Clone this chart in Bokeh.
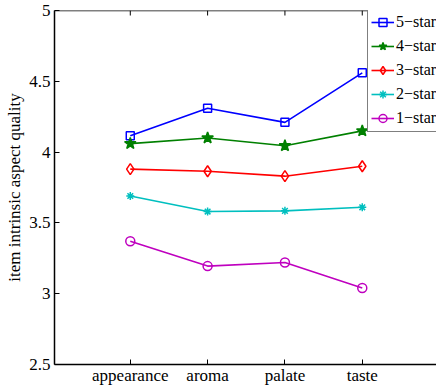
import math
from bokeh.plotting import figure
from bokeh.models import (FixedTicker, CustomJSTickFormatter, Legend,
                          LegendItem, Range1d, Span)
from bokeh.embed import file_html
from bokeh.resources import INLINE

# ---- data ----
aspects = ["appearance", "aroma", "palate", "taste"]
x_pos = [1, 2, 3, 4]
star5 = [4.115, 4.31, 4.21, 4.56]
star4 = [4.06, 4.10, 4.045, 4.15]
star3 = [3.88, 3.865, 3.83, 3.90]
star2 = [3.69, 3.58, 3.585, 3.61]
star1 = [3.37, 3.195, 3.22, 3.04]
y_ticks = [2.5, 3, 3.5, 4, 4.5, 5]
y_top = 5
series_names = ["5\u2212star", "4\u2212star", "3\u2212star", "2\u2212star", "1\u2212star"]
series_values = [star5, star4, star3, star2, star1]
series_colors = ["#0000FF", "#008000", "#FF0000", "#00BFBF", "#BF00BF"]
series_markers = ["square", "star", "diamond", "asterisk", "circle"]
marker_sizes = [8, 12, 11, 8, 9]
marker_fills = [None, "#008000", None, None, None]

FONT = "Liberation Serif"
FS = "17px"

W, H = 436, 388
BT, BB, BL = 10, 24, 54
FRAME_H = H - BT - BB
LEG_H = 122

p = figure(width=W, height=H, output_backend="svg", toolbar_location=None,
           x_range=Range1d(0.02, 4.96), y_range=Range1d(2.5, 5),
           min_border_left=BL, min_border_right=0, min_border_top=BT,
           min_border_bottom=BB)
p.outline_line_color = None
p.xgrid.grid_line_color = None
p.ygrid.grid_line_color = None
p.background_fill_color = "white"
p.border_fill_color = "white"

xa = p.xaxis[0]
xa.ticker = FixedTicker(ticks=x_pos)
xa.major_label_overrides = {x: a for x, a in zip(x_pos, aspects)}
xa.major_tick_in = 5
xa.major_tick_out = 0
xa.minor_tick_line_color = None
xa.major_label_standoff = 1
xa.axis_line_width = 1.5
xa.major_tick_line_width = 1
xa.major_label_text_font = FONT
xa.major_label_text_font_size = FS
xa.major_label_text_color = "black"

ya = p.yaxis[0]
ya.ticker = FixedTicker(ticks=y_ticks)
ya.formatter = CustomJSTickFormatter(code="return tick.toString();")
ya.major_tick_in = 5
ya.major_tick_out = 0
ya.minor_tick_line_color = None
ya.major_label_standoff = 4
ya.axis_line_width = 1.5
ya.major_tick_line_width = 1
ya.major_label_text_font = FONT
ya.major_label_text_font_size = FS
ya.major_label_text_color = "black"
ya.axis_label = "item intrinsic aspect quality"
ya.axis_label_text_font = FONT
ya.axis_label_text_font_size = FS
ya.axis_label_text_font_style = "normal"
ya.axis_label_text_color = "black"
ya.axis_label_standoff = 2

# top box edge with inward ticks
p.add_layout(Span(location=y_top, dimension="width", line_color="black", line_width=1.5))
p.ray(x=x_pos, y=[y_top] * len(x_pos), length=5, length_units="screen",
      angle=-math.pi / 2, line_color="black", line_width=1)

items = []
for name, vals, col, mk, ms, fill in zip(series_names, series_values, series_colors,
                                         series_markers, marker_sizes, marker_fills):
    lr = p.line(x_pos, vals, line_color=col, line_width=1.6)
    sr = p.scatter(x_pos, vals, marker=mk, size=ms, line_color=col, line_width=1.5,
                   fill_color=fill if fill else "white", fill_alpha=1.0 if fill else 0.0)
    items.append(LegendItem(label=name, renderers=[lr, sr]))

legend = Legend(items=items, location=(313, FRAME_H - LEG_H),
                padding=3, spacing=4, glyph_height=20, label_height=20,
                glyph_width=23, label_standoff=2, margin=0,
                border_line_color="black", border_line_width=1.5,
                background_fill_color="white", background_fill_alpha=1.0,
                label_text_font=FONT, label_text_font_size="16px",
                label_text_color="black")
p.add_layout(legend, "center")

open("out.html", "w").write(file_html(p, INLINE))
